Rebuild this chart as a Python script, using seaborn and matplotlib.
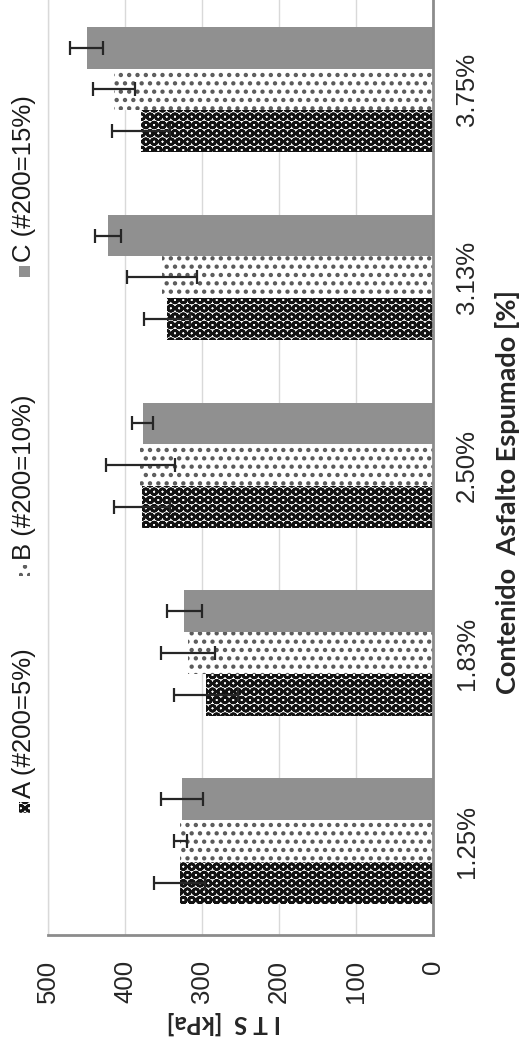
import matplotlib
matplotlib.use('Agg')
import matplotlib.pyplot as plt
import seaborn as sns
import pandas as pd
from matplotlib.patches import Rectangle

# datos
categories = ['1.25%', '1.83%', '2.50%', '3.13%', '3.75%']
series = ['A (#200=5%)', 'B (#200=10%)', 'C (#200=15%)']
its_a = [329, 295, 378, 345, 379]
its_b = [328, 318, 380, 352, 414]
its_c = [326, 323, 377, 422, 450]
err_a = [33, 42, 36, 30, 38]
err_b = [9, 35, 45, 46, 27]
err_c = [27, 23, 14, 17, 22]
value_ticks = [0, 100, 200, 300, 400, 500]

sns.set_style('white')
plt.rcParams['font.family'] = ['Liberation Sans', 'DejaVu Sans']
plt.rcParams['hatch.linewidth'] = 1.9

df = pd.DataFrame({
    'cat': categories * 3,
    'serie': [s for s in series for _ in categories],
    'its': its_a + its_b + its_c,
})
errs = {series[0]: err_a, series[1]: err_b, series[2]: err_c}
styles = {
    series[0]: dict(facecolor='white', edgecolor='#121212', hatch='OO'),
    series[1]: dict(facecolor='white', edgecolor='#5a5a5a', hatch='..'),
    series[2]: dict(facecolor='#909090', edgecolor='#909090', hatch=None),
}

W, H = 520, 1049
fig = plt.figure(figsize=(W / 100, H / 100), dpi=100)
ax = fig.add_axes([48 / W, 1 - 935 / H, 385 / W, 939.5 / H])

# grafico rotado: categorias en vertical, valores de derecha a izquierda
order = categories[::-1]
hue_order = series[::-1]
sns.barplot(data=df, x='its', y='cat', hue='serie', order=order, hue_order=hue_order,
            orient='h', width=0.667, errorbar=None, saturation=1, legend=False, ax=ax)

for serie, cont in zip(hue_order, ax.containers):
    st = styles[serie]
    ys, xs = [], []
    for p in cont:
        p.set_facecolor(st['facecolor'])
        p.set_edgecolor(st['edgecolor'])
        p.set_hatch(st['hatch'])
        p.set_linewidth(0)
        ys.append(p.get_y() + p.get_height() / 2)
        xs.append(p.get_width())
    ax.errorbar(xs, ys, xerr=errs[serie][::-1], fmt='none', ecolor='#262626',
                elinewidth=1.6, capsize=4.7, capthick=1.6, zorder=5)

ax.set_xlim(500, 0)
ax.set_ylim(len(categories) - 0.5, -0.5)
ax.set_xticks(value_ticks)
ax.set_xlabel('')
ax.set_ylabel('')
ax.grid(axis='x', color='#d9d9d9', lw=1)
ax.set_axisbelow(True)
ax.tick_params(axis='x', length=0, pad=18, labelsize=18.5, labelrotation=90)
ax.yaxis.tick_right()
ax.tick_params(axis='y', length=0, pad=16, labelsize=18.5)
for t in ax.get_yticklabels():
    t.set_rotation(90)
    t.set_va('center')
    t.set_ha('left')

ax.spines['top'].set_visible(False)
ax.spines['left'].set_color('#d9d9d9')
ax.spines['left'].set_linewidth(1)
for s in ['right', 'bottom']:
    ax.spines[s].set_color('#8c8c8c')
    ax.spines[s].set_linewidth(2)

fig.text(507 / W, 1 - 492 / H, 'Contenido  Asfalto Espumado [%]', rotation=90,
         ha='center', va='center', fontsize=19.5, fontweight='bold', family=['Lato', 'DejaVu Sans'])
fig.text(224 / W, 1 - 1023 / H, 'I T S  [kPa]', rotation=180,
         ha='center', va='center', fontsize=17.5, fontweight='bold', family=['Lato', 'DejaVu Sans'])

# leyenda rotada hecha a mano (y = extremo superior del texto)
legend_top = {series[0]: 648, series[1]: 395, series[2]: 95}
for serie in series:
    st = styles[serie]
    txt = fig.text(24 / W, 1 - legend_top[serie] / H, serie, rotation=90, ha='center', va='top',
                   fontsize=18.5, color='#1a1a1a')
    fig.canvas.draw()
    bb = txt.get_window_extent()
    y_bottom = H - bb.y0
    fig.add_artist(Rectangle((19 / W, 1 - (y_bottom + 15) / H), 11 / W, 11 / H,
                             transform=fig.transFigure, facecolor=st['facecolor'],
                             edgecolor=st['edgecolor'], hatch=st['hatch'], lw=0))

fig.savefig('out.png', dpi=100)
